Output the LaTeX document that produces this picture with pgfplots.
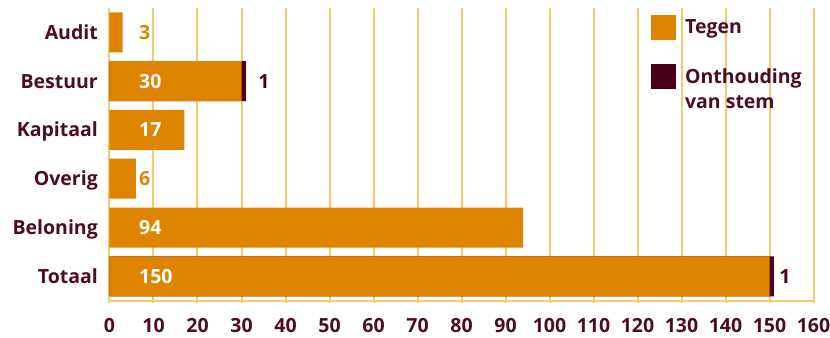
\documentclass[border=0pt]{standalone}
\usepackage{fontspec}
\setmainfont{Open Sans}
\usepackage{pgfplots}
\usepackage{pgfplotstable}
\pgfplotsset{compat=1.18}

\definecolor{tegen}{HTML}{DE8400}
\definecolor{onth}{HTML}{4A0019}
\definecolor{ink}{HTML}{4D0C22}
\definecolor{gridgold}{RGB}{240,204,108}

% votes against per agenda topic
\pgfplotstableread{
y tegen
0 3
1 30
2 17
3 6
4 94
5 150
}\stemdata

\pgfplotsset{
  sq legend/.style={legend image code/.code={\fill[##1] (0bp,-12.5bp) rectangle (25bp,12.5bp);}},
  vlabel/.style={draw=none, mark=none, forget plot, point meta=explicit, nodes near coords,
    every node near coord/.append style={inner sep=0pt, text height=14bp, text depth=0pt, #1}},
}

\begin{document}
\begin{tikzpicture}[font=\fontsize{19.5bp}{25bp}\selectfont\bfseries]
\path[use as bounding box] (-109.5bp,-37.3bp) rectangle (720.5bp,300.7bp);
\begin{axis}[
  scale only axis, width=704bp, height=292.7bp,
  xmin=0, xmax=160, ymin=-0.5, ymax=5.5, y dir=reverse,
  xtick={0,10,...,160}, ytick={0,...,5},
  yticklabels={Audit,Bestuur,Kapitaal,Overig,Beloning,Totaal},
  axis x line*=bottom, axis y line*=left,
  axis line style={draw=none},
  major tick length=0pt,
  /pgf/number format/assume math mode=true,
  tick label style={text=ink},
  yticklabel style={anchor=east, inner sep=0pt, xshift=-11.5bp, text height=14bp, text depth=0pt},
  xticklabel style={anchor=north, inner sep=0pt, yshift=-17bp},
  clip=false,
  reverse legend,
  legend cell align=left,
  legend style={at={(rel axis cs:0.769,0.976)}, anchor=north west, draw=none, fill=none,
    inner sep=0pt, column sep=9bp, row sep=24bp, text=ink,
    nodes={inner sep=0pt, anchor=west}},
]
% vertical gridlines and base line, as thin filled strips
\pgfplotsinvokeforeach{0,10,20,30,40,50,60,70,80,90,100,110,120,130,140,150,160}{
  \fill[gridgold] ([xshift=-1bp]axis cs:#1,-0.5) rectangle ([xshift=1bp,yshift=-2bp]axis cs:#1,5.5);
}
\fill[gridgold] ([xshift=-1bp,yshift=1bp]axis cs:0,5.5) rectangle ([xshift=1bp,yshift=-1bp]axis cs:160,5.5);

% abstentions: drawn at full length (against + abstained), orange bar on top
\addplot[xbar, bar width=40bp, bar shift=0pt, fill=onth, draw=none, sq legend]
  coordinates {(31,1) (151,5)};
\addlegendentry{\vtop{\hbox{Onthouding}\hbox{van stem}}}
\addplot[xbar, bar width=40bp, bar shift=0pt, fill=tegen, draw=none, sq legend]
  table[x=tegen, y=y]{\stemdata};
\addlegendentry{Tegen}

% value labels for votes against
\addplot[vlabel={anchor=west, text=white}]
  coordinates {(6.7,1) [30] (6.7,2) [17] (6.7,4) [94] (6.7,5) [150]};
\addplot[vlabel={anchor=west, text=tegen}]
  coordinates {(6.7,0) [3] (6.7,3) [6]};

% value labels for abstentions
\addplot[vlabel={anchor=center, text=onth}]
  coordinates {(35.1,1) [1] (153.5,5) [1]};
\end{axis}
\end{tikzpicture}
\end{document}
